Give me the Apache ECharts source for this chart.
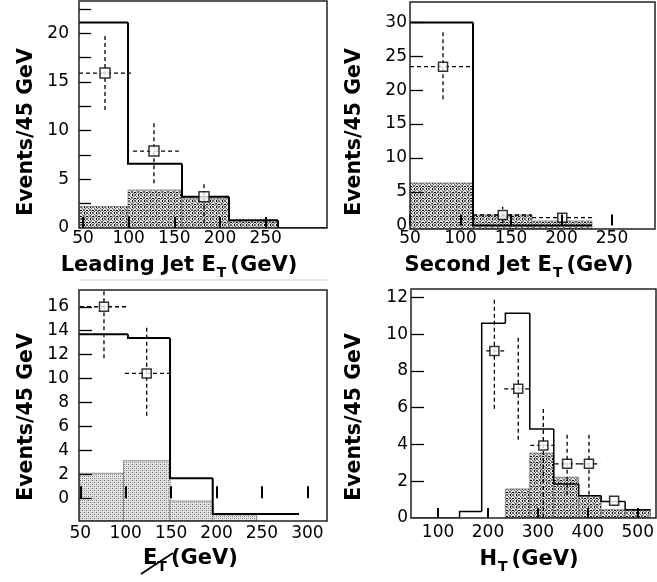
<!DOCTYPE html>
<html><head><meta charset="utf-8">
<script src="https://cdn.jsdelivr.net/npm/echarts@6/dist/echarts.min.js"></script>
<style>html,body{margin:0;padding:0;background:#fff}#c{width:657px;height:582px}</style>
</head><body><div id="c"></div>
<script>
// ---------- Panel 1: Leading Jet ET ----------
const jet1Edges = [45.6, 99.3, 158.4, 209.9, 263.6, 317.2];
const jet1Expected = [21.1, 6.6, 3.2, 0.8, 0];
const jet1Background = [2.2, 3.9, 3.0, 0.75, 0];
const jet1X = [74.1, 127.7, 182.5];
const jet1Y = [15.9, 7.9, 3.2];
const jet1XLo = [45.6, 104.8, 158.4];
const jet1XHi = [102.6, 155.0, 209.9];
const jet1YLo = [12.1, 4.6, 0.5];
const jet1YHi = [19.8, 10.8, 4.7];
const jet1XLabels = [50, 100, 150, 200, 250];
const jet1YLabels = [0, 5, 10, 15, 20];
const jet1YTicks = [2.5, 5, 7.5, 10, 12.5, 15, 17.5, 20, 22.5];

// ---------- Panel 2: Second Jet ET ----------
const jet2Edges = [50, 112.4, 170.8, 230.2];
const jet2Expected = [30.0, 0, 0];
const jet2Background = [6.3, 1.57, 0.68];
const jet2X = [82.7, 141.8, 200.8];
const jet2Y = [23.47, 1.57, 1.17];
const jet2XLo = [50, 112.4, 170.8];
const jet2XHi = [112.4, 170.8, 230.2];
const jet2YLo = [18.66, 0.34, 0.09];
const jet2YHi = [28.6, 2.79, 2.05];
const jet2XLabels = [50, 100, 150, 200, 250];
const jet2YLabels = [0, 5, 10, 15, 20, 25, 30];
const jet2YTicks = [5, 10, 15, 20, 25, 30];

// ---------- Panel 3: Missing ET ----------
const metSolidEdges = [48.6, 102.5, 148.8, 195.8, 290.8];
const metExpected = [13.7, 13.4, 1.67, -1.31];
const metBgEdges = [48.6, 97.6, 148.8, 195.8, 244.2];
const metBackground = [2.09, 3.14, -0.23, -1.39];
const metX = [76.1, 123.1];
const metY = [16.0, 10.43];
const metXLo = [49.7, 99.2];
const metXHi = [101.0, 148.8];
const metYLo = [11.7, 6.9];
const metYHi = [17.4, 14.47];
const metXLabels = [50, 100, 150, 200, 250, 300];
const metYLabels = [0, 2, 4, 6, 8, 10, 12, 14, 16];

// ---------- Panel 4: HT ----------
const htEdges = [45.8, 143.1, 187.4, 234.8, 283.7, 331.7, 381.7, 426.7, 474.7, 525.6];
const htExpected = [0, 0.36, 10.6, 11.14, 4.84, 1.85, 1.21, 0.9, 0.45];
const htBackground = [0, 0, 0, 1.58, 3.53, 2.22, 1.21, 0.45, 0.45];
const htX = [212.8, 260.6, 310.8, 358.5, 402.2, 452.6];
const htY = [9.09, 7.03, 3.95, 2.95, 2.95, 0.94];
const htXLo = [196.6, 232.4, 284.7, 333.7, 382.7, 452.6];
const htXHi = [232.4, 284.7, 333.7, 382.7, 425.1, 452.6];
const htYLo = [5.94, 4.26, 0, 1.27, 1.27, 0.94];
const htYHi = [11.96, 9.82, 6.01, 4.53, 4.53, 0.94];
const htXLabels = [100, 200, 300, 400, 500];
const htYLabels = [0, 2, 4, 6, 8, 10, 12];
const htYTicks = [2, 4, 6, 8, 10, 12];

// ---------- helpers ----------
const FONT = '"DejaVu Sans", sans-serif';

function pixelPattern(n, fn) {
  const c = document.createElement('canvas'); c.width = n; c.height = n;
  const g = c.getContext('2d');
  const img = g.createImageData(n, n);
  for (let y = 0; y < n; y++) for (let x = 0; x < n; x++) {
    const v = fn(x, y), k = (y * n + x) * 4;
    img.data[k] = img.data[k + 1] = img.data[k + 2] = v; img.data[k + 3] = 255;
  }
  g.putImageData(img, 0, 0);
  return c;
}
const CROSS = pixelPattern(6, (x, y) => {
  if ((y === 0 && (x === 2 || x === 3)) || (x === 0 && (y === 2 || y === 3))) return 0;
  if (x === y || x === 5 - y) return 105;
  return 222;
});
const STIPPLE = pixelPattern(4, (x, y) => {
  if ((x === 0 && y === 0) || (x === 2 && y === 2)) return 115;
  if ((x === 2 && y === 0) || (x === 0 && y === 2)) return 170;
  return 228;
});

function bins(edges, vals) {
  return vals.map((v, i) => [edges[i], edges[i + 1], v, i ? vals[i - 1] : v]);
}
function points(xs, ys) { return xs.map((x, i) => [x, ys[i]]); }
function errs(xs, ys, xlo, xhi, ylo, yhi) {
  return xs.map((x, i) => [x, ys[i], xlo[i], xhi[i], ylo[i], yhi[i]]);
}

function hatchSeries(idx, data, yMin, pattern) {
  return {
    type: 'custom', coordinateSystem: 'cartesian2d', xAxisIndex: idx, yAxisIndex: idx,
    clip: true, z: 2, data,
    renderItem(params, api) {
      const x0 = api.value(0), x1 = api.value(1), v = api.value(2);
      if (v <= yMin) return null;
      const a = api.coord([x0, v]), b = api.coord([x1, yMin]);
      return { type: 'rect', shape: { x: a[0], y: a[1], width: b[0] - a[0], height: b[1] - a[1] },
        style: { fill: { image: pattern, repeat: 'repeat' }, stroke: '#7a7a7a', lineWidth: 0.8 } };
    }
  };
}
function stepSeries(idx, data, width) {
  return {
    type: 'custom', coordinateSystem: 'cartesian2d', xAxisIndex: idx, yAxisIndex: idx,
    clip: true, z: 3, data,
    renderItem(params, api) {
      const x0 = api.value(0), x1 = api.value(1), v = api.value(2), vp = api.value(3);
      const p = api.coord([x0, vp]), q = api.coord([x0, v]), r = api.coord([x1, v]);
      return { type: 'polyline', shape: { points: [p, q, r] },
        style: { stroke: '#000', lineWidth: width, fill: null } };
    }
  };
}
function errSeries(idx, data) {
  return {
    type: 'custom', coordinateSystem: 'cartesian2d', xAxisIndex: idx, yAxisIndex: idx,
    clip: true, z: 4, data,
    renderItem(params, api) {
      const x = api.value(0), y = api.value(1);
      const xl = api.value(2), xh = api.value(3), yl = api.value(4), yh = api.value(5);
      const st = { stroke: '#000', lineWidth: 1.3, lineDash: [4, 3] };
      const ch = [];
      if (xh > xl) {
        const a = api.coord([xl, y]), b = api.coord([xh, y]);
        ch.push({ type: 'line', shape: { x1: a[0], y1: a[1], x2: b[0], y2: b[1] }, style: st });
      }
      if (yh > yl) {
        const a = api.coord([x, yl]), b = api.coord([x, yh]);
        ch.push({ type: 'line', shape: { x1: a[0], y1: a[1], x2: b[0], y2: b[1] }, style: st });
      }
      return { type: 'group', children: ch };
    }
  };
}
function pointSeries(idx, data, size) {
  return {
    type: 'scatter', xAxisIndex: idx, yAxisIndex: idx, z: 5, data,
    symbol: 'rect', symbolSize: size,
    itemStyle: { color: '#fff', borderColor: '#000', borderWidth: 1.5 },
    emphasis: { disabled: true }
  };
}

function xAxis(idx, min, max, labels, margin, tickLen) {
  return {
    type: 'value', gridIndex: idx, min, max, z: 6,
    axisLine: { show: false }, splitLine: { show: false },
    axisTick: { show: true, inside: true, length: tickLen, customValues: labels,
      lineStyle: { color: '#000', width: 2 } },
    axisLabel: { customValues: labels, margin, color: '#000', fontFamily: FONT, fontSize: 17 }
  };
}
function yAxis(idx, min, max, labels, ticks, margin, tickLen) {
  return {
    type: 'value', gridIndex: idx, min, max, z: 6,
    axisLine: { show: false }, splitLine: { show: false },
    axisTick: { show: true, inside: true, length: tickLen, customValues: ticks,
      lineStyle: { color: '#000', width: 1.3 } },
    axisLabel: { customValues: labels, margin, color: '#000', fontFamily: FONT, fontSize: 17 }
  };
}

const GRIDS = [
  { left: 79, top: 1, width: 248, height: 227 },
  { left: 410, top: 2, width: 245, height: 227 },
  { left: 79, top: 290, width: 248, height: 231 },
  { left: 411, top: 289, width: 245, height: 229 }
];

// text layout helpers
const mctx = document.createElement('canvas').getContext('2d');
function tw(t, s) { mctx.font = 'bold ' + s + 'px ' + FONT; return mctx.measureText(t).width; }
function txt(t, x, y, s, extra) {
  return Object.assign({ type: 'text', x, y, z: 50,
    style: { text: t, font: 'bold ' + s + 'px ' + FONT, fill: '#000',
      align: 'left', verticalAlign: 'middle', textAlign: 'left', textVerticalAlign: 'middle' } }, extra || {});
}
const TS = 21, SUB = 14;
function subTitle(main, tail, cx, cy, gap) {
  const w1 = tw(main, TS), w2 = tw('T', SUB), w3 = tw(tail, TS);
  const total = w1 + 1 + w2 + gap + w3;
  const x0 = cx - total / 2;
  return [txt(main, x0, cy, TS), txt('T', x0 + w1 + 1, cy + 7, SUB), txt(tail, x0 + w1 + 1 + w2 + gap, cy, TS)];
}
function yTitle(x, y) {
  return { type: 'text', x, y, rotation: Math.PI / 2, z: 50,
    style: { text: 'Events/45 GeV', font: 'bold 20.5px ' + FONT, fill: '#000',
      align: 'center', verticalAlign: 'middle', textAlign: 'center', textVerticalAlign: 'middle' } };
}

const graphics = [];
GRIDS.forEach(g => graphics.push({ type: 'rect', z: 40,
  shape: { x: g.left, y: g.top, width: g.width, height: g.height },
  style: { fill: null, stroke: '#222', lineWidth: 1.5 } }));
graphics.push(...subTitle('Leading Jet E', '(GeV)', 179, 266, 4));
graphics.push(...subTitle('Second Jet E', '(GeV)', 519, 266, 4));
graphics.push(...subTitle('H', '(GeV)', 529, 560, 4));
// missing ET title: slashed E
(function () {
  const xE = 143;
  const wE = tw('E', TS), wT = tw('T', SUB);
  graphics.push(txt('E', xE, 559, TS));
  graphics.push(txt('T', xE + wE, 567, SUB));
  graphics.push(txt('(GeV)', xE + wE + wT + 4, 559, TS));
  graphics.push({ type: 'line', z: 51, shape: { x1: 141, y1: 574, x2: 173, y2: 553 },
    style: { stroke: '#000', lineWidth: 1.8 } });
})();
graphics.push(yTitle(27, 132), yTitle(355, 132), yTitle(27, 417), yTitle(355, 417));
graphics.push({ type: 'line', z: 1, shape: { x1: 79, y1: 280, x2: 327, y2: 280 },
  style: { stroke: '#cfcfcf', lineWidth: 1 } });

const option = {
  animation: false,
  backgroundColor: '#fff',
  grid: GRIDS.map(g => Object.assign({ show: false, containLabel: false }, g)),
  xAxis: [
    xAxis(0, 45.6, 317.2, jet1XLabels, 2, 11),
    xAxis(1, 50, 292.6, jet2XLabels, 1, 11),
    xAxis(2, 48.6, 321.6, metXLabels, 4, 12),
    xAxis(3, 45.8, 525.6, htXLabels, 6, 10)
  ],
  yAxis: [
    yAxis(0, 0, 23.3, jet1YLabels, jet1YTicks, 10, 12),
    yAxis(1, -0.5, 33.03, jet2YLabels, jet2YTicks, 3, 13),
    yAxis(2, -1.9, 17.4, metYLabels, metYLabels, 10, 13),
    yAxis(3, 0, 12.46, htYLabels, htYTicks, 3, 13)
  ],
  series: [
    hatchSeries(0, bins(jet1Edges, jet1Background), 0, CROSS),
    stepSeries(0, bins(jet1Edges, jet1Expected), 2),
    errSeries(0, errs(jet1X, jet1Y, jet1XLo, jet1XHi, jet1YLo, jet1YHi)),
    pointSeries(0, points(jet1X, jet1Y), 10),

    hatchSeries(1, bins(jet2Edges, jet2Background), -0.5, CROSS),
    stepSeries(1, bins(jet2Edges, jet2Expected), 2),
    errSeries(1, errs(jet2X, jet2Y, jet2XLo, jet2XHi, jet2YLo, jet2YHi)),
    pointSeries(1, points(jet2X, jet2Y), 9),

    hatchSeries(2, bins(metBgEdges, metBackground), -1.9, STIPPLE),
    stepSeries(2, bins(metSolidEdges, metExpected), 2),
    errSeries(2, errs(metX, metY, metXLo, metXHi, metYLo, metYHi)),
    pointSeries(2, points(metX, metY), 9),

    hatchSeries(3, bins(htEdges, htBackground), 0, CROSS),
    stepSeries(3, bins(htEdges, htExpected), 1.5),
    errSeries(3, errs(htX, htY, htXLo, htXHi, htYLo, htYHi)),
    pointSeries(3, points(htX, htY), 9)
  ],
  graphic: graphics
};

const chart = echarts.init(document.getElementById('c'), null, { renderer: 'canvas' });
chart.setOption(option);
</script></body></html>
